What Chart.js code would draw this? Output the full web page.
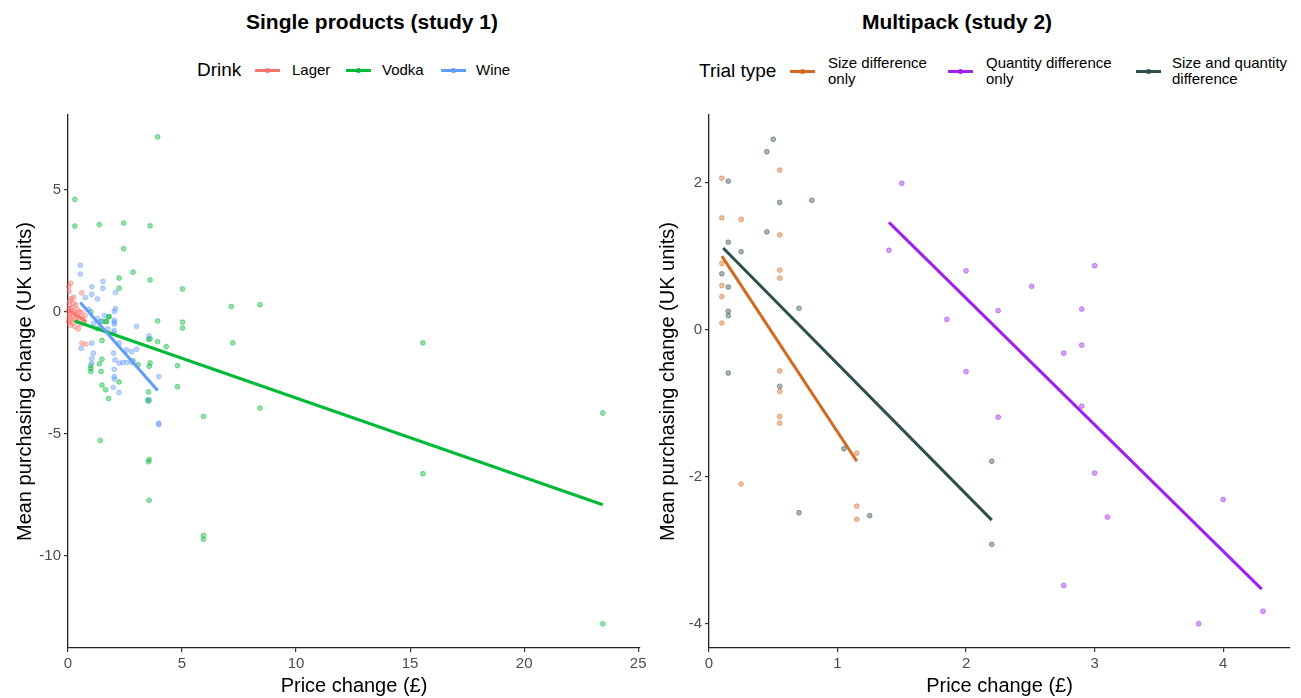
<!DOCTYPE html>
<html>
<head>
<meta charset="utf-8">
<script src="https://cdn.jsdelivr.net/npm/chart.js@4.4.1/dist/chart.umd.min.js"></script>
<style>
  body { margin:0; background:#fff; font-family:'Liberation Sans', Arial, sans-serif; }
  #wrap { position:relative; width:1301px; height:698px; overflow:hidden; }
  .ttl { position:absolute; top:11px; width:400px; text-align:center; font-weight:bold; font-size:21px; line-height:1; color:#000; }
  .lg { position:absolute; white-space:nowrap; color:#000; }
  .lgt { font-size:19px; line-height:24px; }
  .lgl { font-size:15px; line-height:16px; }
  .sw { position:absolute; width:25px; height:3px; }
  .sw i { position:absolute; left:10px; top:-1px; width:5px; height:5px; border-radius:50%; }
  .pane { position:absolute; top:0; }
</style>
</head>
<body>
<div id="wrap">
  <div class="ttl" style="left:172px">Single products (study 1)</div>
  <div class="ttl" style="left:757px">Multipack (study 2)</div>

  <div class="lg lgt" style="left:197px;top:58px">Drink</div>
  <div class="sw" style="left:255px;top:69px;background:#F8766D"><i style="background:#F8766D"></i></div>
  <div class="lg lgl" style="left:292px;top:62px">Lager</div>
  <div class="sw" style="left:346px;top:69px;background:#00BA38"><i style="background:#00BA38"></i></div>
  <div class="lg lgl" style="left:382px;top:62px">Vodka</div>
  <div class="sw" style="left:441px;top:69px;background:#619CFF"><i style="background:#619CFF"></i></div>
  <div class="lg lgl" style="left:476px;top:62px">Wine</div>

  <div class="lg lgt" style="left:699px;top:59px">Trial type</div>
  <div class="sw" style="left:790px;top:70px;background:#D2691E"><i style="background:#D2691E"></i></div>
  <div class="lg lgl" style="left:828px;top:55px">Size difference<br>only</div>
  <div class="sw" style="left:948px;top:70px;background:#A020F0"><i style="background:#A020F0"></i></div>
  <div class="lg lgl" style="left:986px;top:55px">Quantity difference<br>only</div>
  <div class="sw" style="left:1136px;top:70px;background:#2F4F4F"><i style="background:#2F4F4F"></i></div>
  <div class="lg lgl" style="left:1172px;top:55px">Size and quantity<br>difference</div>

  <div class="pane" style="left:0;width:650px;height:698px"><canvas id="c1" width="650" height="698"></canvas></div>
  <div class="pane" style="left:650px;width:651px;height:698px"><canvas id="c2" width="651" height="698"></canvas></div>
</div>
<script>
// ---- Study 1: single products ----
const lagerX = [0.03,0.12,0.05,0.60,0.15,0.08,0.25,0.05,0.35,0.18,0.10,0.40,0.02,0.28,0.50,0.15,0.60,0.08,0.35,0.22,0.45,0.05,0.30,0.62,0.12,0.40,0.20,0.55,0.10,0.30,0.45,0.68,0.75,0.02,0.25,0.61,0.79];
const lagerY = [1.05,1.18,0.85,0.78,0.55,0.45,0.35,0.30,0.28,0.20,0.12,0.10,0.05,0.02,0.00,-0.05,-0.02,-0.12,-0.10,-0.18,-0.20,-0.25,-0.28,-0.25,-0.35,-0.38,-0.45,-0.50,-0.55,-0.60,-0.70,-0.40,-0.15,-0.40,0.60,-1.28,-1.32];
const vodkaX = [3.93,0.30,0.30,1.37,2.44,3.60,2.44,2.85,2.24,3.60,2.24,5.02,7.16,8.42,3.93,5.02,5.02,7.23,15.56,1.00,1.49,1.65,1.78,1.29,1.49,3.53,3.60,3.93,4.31,1.00,1.00,1.00,1.37,1.49,1.45,2.85,3.07,3.60,3.56,4.80,4.80,1.49,1.65,1.78,2.24,3.53,3.50,3.53,8.42,5.94,23.45,1.42,3.56,3.53,15.56,3.56,5.94,5.94,23.45,1.81,1.70];
const vodkaY = [7.17,4.61,3.52,3.58,3.64,3.53,2.59,1.63,1.39,1.31,0.97,0.94,0.22,0.30,-0.37,-0.42,-0.66,-1.27,-1.27,0.00,-0.39,-0.39,-0.20,-0.69,-1.17,-1.12,-1.10,-1.22,-1.42,-2.20,-2.32,-2.44,-2.13,-1.94,-2.44,-2.00,-2.16,-2.09,-2.23,-2.20,-3.06,-3.00,-3.19,-3.55,-2.87,-3.28,-3.60,-3.66,-3.94,-4.28,-4.14,-5.27,-6.05,-6.14,-6.63,-7.72,-9.16,-9.31,-12.78,-0.19,-0.40];
const wineX = [0.54,0.54,1.53,1.53,1.04,1.04,1.29,0.76,2.08,2.08,2.03,1.29,1.12,2.03,2.03,2.03,2.03,1.99,3.00,3.55,2.24,1.04,0.58,1.11,2.00,2.57,2.79,3.01,2.40,2.57,2.79,2.06,2.25,1.04,1.04,2.03,2.03,2.03,3.98,1.99,2.24,3.57,3.98,3.98,1.45,1.75,1.60,0.90];
const wineY = [1.91,1.55,1.25,0.97,1.03,0.72,0.53,0.59,0.80,0.13,0.02,-0.27,-0.47,-0.34,-0.42,-0.50,-0.77,-0.85,-0.59,-0.98,-1.28,-1.28,-1.49,-1.69,-1.69,-1.56,-1.63,-1.53,-2.07,-2.07,-2.07,-1.97,-2.10,-1.90,-2.10,-2.35,-2.65,-2.75,-2.65,-3.09,-3.30,-3.60,-4.56,-4.62,-0.38,-0.69,-0.15,0.10];
// fitted lines (end points)
const lagerFitX = [0.02, 0.80], lagerFitY = [0.10, -0.40];
const vodkaFitX = [0.30, 23.45], vodkaFitY = [-0.37, -7.90];
const wineFitX = [0.54, 3.93], wineFitY = [0.39, -3.22];
const ticksX1 = [0, 5, 10, 15, 20, 25];
const ticksY1 = [-10, -5, 0, 5];

// ---- Study 2: multipack ----
const sizeX = [0.10,0.10,0.25,0.55,0.55,0.55,0.55,0.10,0.10,0.10,0.10,0.55,0.55,0.55,0.55,1.15,0.25,1.15,1.15];
const sizeY = [2.06,1.52,1.50,2.17,1.29,0.81,0.70,0.90,0.60,0.45,0.09,-0.56,-0.84,-1.18,-1.27,-1.68,-2.10,-2.40,-2.58];
const qtyX = [1.50,1.40,2.00,1.85,2.25,2.00,2.25,3.00,2.51,2.90,2.90,2.76,2.90,3.00,3.10,4.00,2.76,3.81,4.31];
const qtyY = [1.99,1.08,0.80,0.14,0.26,-0.57,-1.19,0.87,0.59,0.28,-0.21,-0.32,-1.04,-1.95,-2.55,-2.31,-3.48,-4.00,-3.83];
const bothX = [0.50,0.45,0.15,0.55,0.80,0.45,0.15,0.25,0.10,0.15,0.70,0.15,0.15,0.15,0.55,1.05,2.20,0.70,1.25,2.20];
const bothY = [2.59,2.42,2.02,1.73,1.76,1.33,1.19,1.06,0.76,0.58,0.29,0.25,0.19,-0.59,-0.77,-1.62,-1.79,-2.49,-2.53,-2.92];
const sizeFitX = [0.10, 1.15], sizeFitY = [1.00, -1.79];
const qtyFitX = [1.40, 4.30], qtyFitY = [1.46, -3.53];
const bothFitX = [0.11, 2.20], bothFitY = [1.11, -2.59];
const ticksX2 = [0, 1, 2, 3, 4];
const ticksY2 = [-4, -2, 0, 2];

Chart.defaults.font.family = "'Liberation Sans', Arial, sans-serif";

const pts = (xs, ys) => xs.map((x, i) => ({ x, y: ys[i] }));
const rgba = (hex, a) => {
  const n = parseInt(hex.slice(1), 16);
  return `rgba(${n >> 16},${(n >> 8) & 255},${n & 255},${a})`;
};

function pointSet(xs, ys, col){
  return {
    data: pts(xs, ys), order: 2, clip: false,
    pointRadius: 2.4, pointBorderWidth: 0.8,
    backgroundColor: rgba(col, 0.42), borderColor: rgba(col, 0.6)
  };
}
function lineSet(xs, ys, col){
  return {
    data: pts(xs, ys), order: 1, showLine: true,
    borderColor: col, borderWidth: 3, pointRadius: 0, fill: false
  };
}

function axes(xMin, xMax, xTicks, yMin, yMax, yTicks, yTitlePad){
  const grid = { drawOnChartArea: false, drawTicks: true, tickLength: 4, color: '#333', lineWidth: 1.2 };
  const border = { display: true, color: '#222', width: 1.3 };
  const tickFont = { size: 15 };
  return {
    x: {
      type: 'linear', min: xMin, max: xMax,
      afterBuildTicks: s => { s.ticks = xTicks.map(v => ({ value: v })); },
      afterFit: s => { s.height = 50; },
      grid, border,
      ticks: { font: tickFont, color: '#4d4d4d', padding: 3, maxRotation: 0, autoSkip: false },
      title: { display: true, text: 'Price change (£)', color: '#000', font: { size: 20 }, padding: { top: 0, bottom: 0 } }
    },
    y: {
      type: 'linear', min: yMin, max: yMax,
      afterBuildTicks: s => { s.ticks = yTicks.map(v => ({ value: v })); },
      afterFit: s => { s.width = yTitlePad.w; },
      grid, border,
      ticks: { font: tickFont, color: '#4d4d4d', padding: 3, autoSkip: false },
      title: { display: true, text: 'Mean purchasing change (UK units)', color: '#000', font: { size: 20 }, padding: { top: yTitlePad.t, bottom: 0 } }
    }
  };
}

function baseOpts(pad, scales){
  return {
    responsive: false, animation: false,
    layout: { padding: pad },
    plugins: { legend: { display: false }, tooltip: { enabled: false }, title: { display: false } },
    scales
  };
}

// first dataset is painted last, so later groups come first to sit on top
new Chart(document.getElementById('c1'), {
  type: 'scatter',
  data: { datasets: [
    lineSet(wineFitX, wineFitY, '#619CFF'),
    lineSet(vodkaFitX, vodkaFitY, '#00BA38'),
    lineSet(lagerFitX, lagerFitY, '#F8766D'),
    pointSet(wineX, wineY, '#619CFF'),
    pointSet(vodkaX, vodkaY, '#00BA38'),
    pointSet(lagerX, lagerY, '#F8766D')
  ]},
  options: baseOpts({ top: 115, right: 10, bottom: 0, left: 0 },
    axes(0, 25.08, ticksX1, -13.77, 8.07, ticksY1, { w: 68, t: 13 }))
});

new Chart(document.getElementById('c2'), {
  type: 'scatter',
  data: { datasets: [
    lineSet(bothFitX, bothFitY, '#2F4F4F'),
    lineSet(qtyFitX, qtyFitY, '#A020F0'),
    lineSet(sizeFitX, sizeFitY, '#D2691E'),
    pointSet(bothX, bothY, '#2F4F4F'),
    pointSet(qtyX, qtyY, '#A020F0'),
    pointSet(sizeX, sizeY, '#D2691E')
  ]},
  options: baseOpts({ top: 115, right: 11, bottom: 0, left: 0 },
    axes(0, 4.52, ticksX2, -4.33, 2.92, ticksY2, { w: 59, t: 6 }))
});
</script>
</body>
</html>
